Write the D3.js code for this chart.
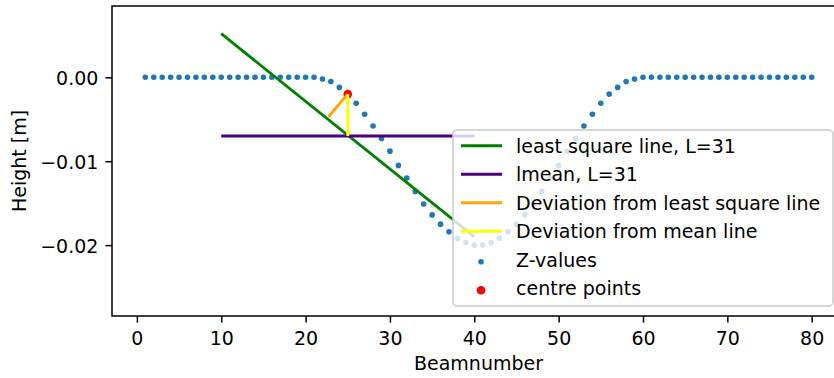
<!DOCTYPE html>
<html>
<head>
<meta charset="utf-8">
<script src="https://cdn.jsdelivr.net/npm/d3@7"></script>
<style>
    body { margin: 0; background: #ffffff; }
    svg { display: block; }
</style>
</head>
<body>
<script>
// data
const beams = [1, 2, 3, 4, 5, 6, 7, 8, 9, 10, 11, 12, 13, 14, 15, 16, 17, 18, 19, 20,
    21, 22, 23, 24, 25, 26, 27, 28, 29, 30, 31, 32, 33, 34, 35, 36, 37, 38, 39, 40,
    41, 42, 43, 44, 45, 46, 47, 48, 49, 50, 51, 52, 53, 54, 55, 56, 57, 58, 59, 60,
    61, 62, 63, 64, 65, 66, 67, 68, 69, 70, 71, 72, 73, 74, 75, 76, 77, 78, 79, 80];
const zValues = [0, 0, 0, 0, 0, 0, 0, 0, 0, 0, 0, 0, 0, 0, 0, 0, 0, 0, 0, 0,
    0, -0.0002, -0.0005, -0.0012, -0.0020, -0.0031, -0.0044, -0.0058, -0.0073, -0.0088,
    -0.0105, -0.0120, -0.0136, -0.0151, -0.0164, -0.0175, -0.0184, -0.0192, -0.0197, -0.0200,
    -0.0200, -0.0197, -0.0192, -0.0184, -0.0175, -0.0164, -0.0151, -0.0136, -0.0120, -0.0105,
    -0.0088, -0.0073, -0.0058, -0.0044, -0.0031, -0.0020, -0.0012, -0.0005, -0.0002, 0,
    0, 0, 0, 0, 0, 0, 0, 0, 0, 0, 0, 0, 0, 0, 0, 0, 0, 0, 0, 0];

const centreBeams = [25];
const centreZ = [-0.0020];

const lsqBeams = [10, 40];
const lsqZ = [0.0052, -0.0190];
const meanBeams = [10, 40];
const meanZ = [-0.0070, -0.0070];
const devLsqBeams = [25, 22.7];
const devLsqZ = [-0.0020, -0.0047];
const devMeanBeams = [25, 25];
const devMeanZ = [-0.0020, -0.0070];

const xTicks = [0, 10, 20, 30, 40, 50, 60, 70, 80];
const yTicks = [0, -0.01, -0.02];
const legendLabels = ["least square line, L=31", "lmean, L=31", "Deviation from least square line",
    "Deviation from mean line", "Z-values", "centre points"];

let width = 834;
let height = 378;
let axLeft = 112;
let axRight = 845;
let axTop = 6;
let axBottom = 316;
const font = "DejaVu Sans";
const fs = 19;

const svg = d3.select("body")
    .append("svg")
    .attr("width", width)
    .attr("height", height);

const xScale = d3.scaleLinear()
    .domain([-2.95, 83.95])
    .range([axLeft, axRight]);
const yScale = d3.scaleLinear()
    .domain([-0.02845, 0.0085])
    .range([axBottom, axTop]);

// x axis
const xAxis = svg.append("g")
    .attr("transform", "translate(0," + axBottom + ")")
    .call(d3.axisBottom(xScale).tickValues(xTicks).tickFormat(d3.format("d"))
        .tickSize(6.6).tickSizeOuter(0).tickPadding(8.5));
xAxis.select(".domain").remove();
xAxis.selectAll("line").attr("stroke", "#000").attr("stroke-width", 1.5);
xAxis.selectAll("text")
    .attr("font-size", fs + "px")
    .attr("font-family", font)
    .attr("fill", "#000");

// y axis
const yAxis = svg.append("g")
    .attr("transform", "translate(" + axLeft + ",0)")
    .call(d3.axisLeft(yScale).tickValues(yTicks).tickFormat(d3.format(".2f"))
        .tickSize(6.6).tickSizeOuter(0).tickPadding(7));
yAxis.select(".domain").remove();
yAxis.selectAll("line").attr("stroke", "#000").attr("stroke-width", 1.5);
yAxis.selectAll("text")
    .attr("dy", "0.4em")
    .attr("font-size", fs + "px")
    .attr("font-family", font)
    .attr("fill", "#000");

// labels
svg.append("text")
    .attr("x", (axLeft + axRight) / 2)
    .attr("y", 370)
    .attr("text-anchor", "middle")
    .attr("font-size", fs + "px")
    .attr("font-family", font)
    .text("Beamnumber");

svg.append("text")
    .attr("transform", "translate(26," + (axTop + axBottom) / 2 + ") rotate(-90)")
    .attr("text-anchor", "middle")
    .attr("font-size", fs + "px")
    .attr("font-family", font)
    .text("Height [m]");

const plot = svg.append("g");

// scatter points (drawn under the lines, like matplotlib)
plot.selectAll(".z")
    .data(beams)
    .enter()
    .append("circle")
    .attr("cx", (d) => xScale(d))
    .attr("cy", (d, i) => yScale(zValues[i]))
    .attr("r", 2.8)
    .attr("fill", "#1f77b4");

plot.selectAll(".c")
    .data(centreBeams)
    .enter()
    .append("circle")
    .attr("cx", (d) => xScale(d))
    .attr("cy", (d, i) => yScale(centreZ[i]))
    .attr("r", 4.3)
    .attr("fill", "red");

const line = d3.line()
    .x((d) => xScale(d[0]))
    .y((d) => yScale(d[1]));

const lines = [
    [lsqBeams, lsqZ, "green"],
    [meanBeams, meanZ, "#4b0082"],
    [devLsqBeams, devLsqZ, "orange"],
    [devMeanBeams, devMeanZ, "yellow"]
];
lines.forEach((l) => {
    plot.append("path")
        .datum(d3.zip(l[0], l[1]))
        .attr("fill", "none")
        .attr("stroke", l[2])
        .attr("stroke-width", 2.85)
        .attr("d", line);
});

// spines
svg.append("rect")
    .attr("x", axLeft)
    .attr("y", axTop)
    .attr("width", axRight - axLeft)
    .attr("height", axBottom - axTop)
    .attr("fill", "none")
    .attr("stroke", "#000")
    .attr("stroke-width", 1.5);

// legend
const legend = svg.append("g");
legend.append("rect")
    .attr("x", 453)
    .attr("y", 130)
    .attr("width", 380)
    .attr("height", 176)
    .attr("rx", 4)
    .attr("fill", "#fff")
    .attr("fill-opacity", 0.8)
    .attr("stroke", "#ccc")
    .attr("stroke-opacity", 0.8)
    .attr("stroke-width", 1.9);

const legendColors = ["green", "#4b0082", "orange", "yellow", "#1f77b4", "red"];
legendLabels.forEach((lab, i) => {
    let base = 152.7 + i * 28.5;
    if (i < 4) {
        legend.append("line")
            .attr("x1", 461)
            .attr("x2", 502)
            .attr("y1", base - 7)
            .attr("y2", base - 7)
            .attr("stroke", legendColors[i])
            .attr("stroke-width", 2.85);
    } else {
        legend.append("circle")
            .attr("cx", 481)
            .attr("cy", base - 5)
            .attr("r", i == 4 ? 2.8 : 4.3)
            .attr("fill", legendColors[i]);
    }
    legend.append("text")
        .attr("x", 516)
        .attr("y", base)
        .attr("font-size", fs + "px")
        .attr("font-family", font)
        .text(lab);
});
</script>
</body>
</html>
